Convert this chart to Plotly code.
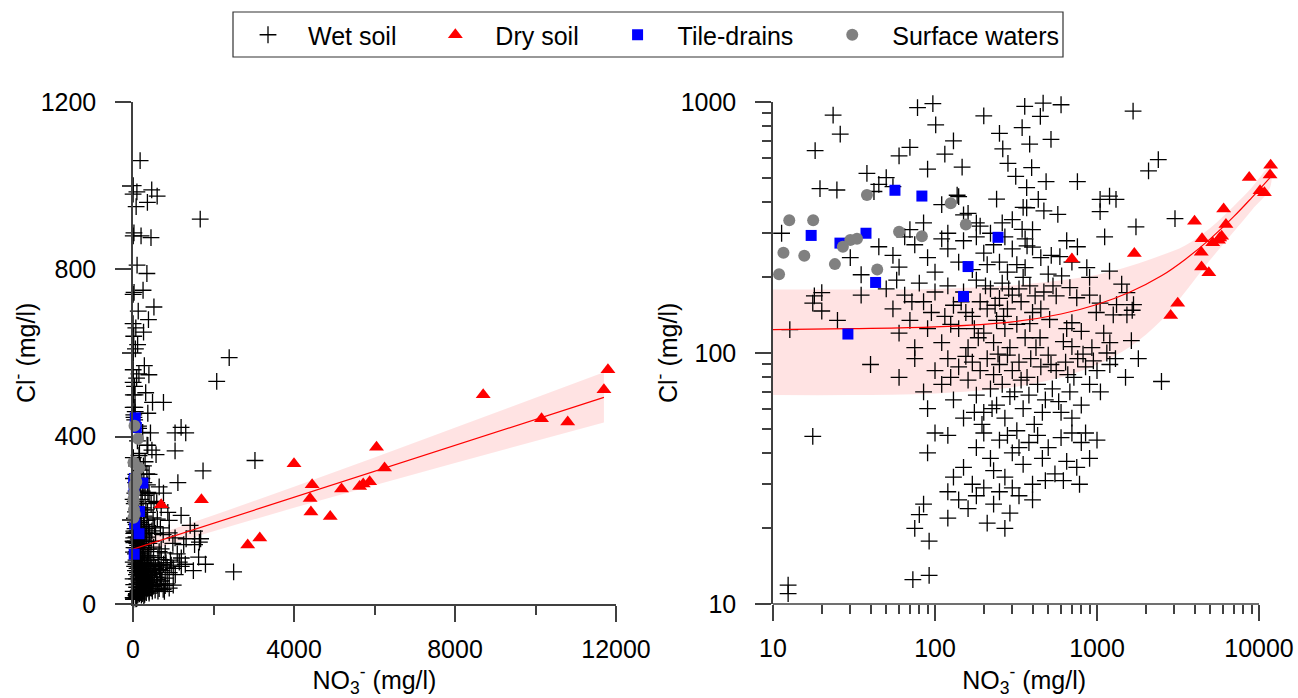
import plotly.graph_objects as go

# ---------------- data (mg/l) ----------------
wet_x = [
    # scattered high values
    11.3, 18.2, 19.5, 23.5, 26, 24.8, 38, 45, 50, 55, 42, 60, 78, 97, 101, 115, 147, 177,
    250, 262, 282, 315, 358, 345, 384, 520, 465, 600, 1670, 2080, 2390, 447, 395, 485, 757, 200,
    130, 90, 70,
    # 300-450
    137, 150, 368, 434, 368, 470, 573, 1045, 1195, 1310, 1045, 3030, 345, 85, 120, 160, 190, 240,
    300, 350, 400, 220, 260, 140, 70, 110, 180,
    # 200-300
    360, 370, 400, 757, 522, 590, 1115, 1740, 360, 865, 500, 605, 900, 1195, 30, 45, 60, 75,
    90, 100, 120, 140, 150, 170, 200, 230, 250, 280, 300, 320, 35, 55, 65, 110, 180, 210,
    270, 450, 650, 700,
    # 100-200 (right part)
    1420, 1530, 385, 535, 680, 415, 560, 750, 1045, 1320, 1680, 990, 1260, 1530, 1650, 510, 700, 385,
    800, 445, 620, 1630, 700, 930,
    # 100-200 (left part)
    17.6, 18, 20, 20, 12.7, 50, 55, 60, 65, 70, 75, 80, 85, 90, 95, 100, 58, 72, 110, 115,
    120, 130, 140, 150, 160, 170, 180, 190, 200, 210, 220, 230, 240, 250, 260, 270, 280, 290, 300, 125,
    145, 185, 205, 235, 265, 285, 175, 155, 320, 340, 360, 400, 420, 470, 350, 450, 330, 650, 900, 1100,
    1200, 25, 35,
    # 50-100
    40, 60, 75, 85, 90, 100,
    110, 120, 130, 140, 150, 160, 170, 180, 190, 200, 210, 220, 230, 240, 250, 260, 270, 280, 290, 300,
    155, 195, 225, 245, 125, 175, 310, 330, 350, 370, 390, 410, 430, 450, 480, 500, 530, 560,
    600, 640, 680, 720, 760, 800, 850, 900, 950, 1000, 340, 460, 580, 700, 820, 380, 520, 660,
    1050, 1150, 1200, 2500, 1500, 1300, 1800,
    # 30-50
    120, 150, 180, 200, 220, 250, 270, 300, 320, 350, 380, 400, 430, 460, 500, 550, 600, 650,
    700, 750, 800, 900, 1000, 17.6, 90, 100, 130, 170, 230, 280, 330, 480, 620, 780, 850,
    # below 30
    75, 80, 85, 92, 120, 140, 160, 180, 200, 230, 250, 290, 330, 300, 400, 120, 210, 270,
    73, 92, 12.4, 12.4,
    # NO3 below 10 mg/l (only visible on the linear panel)
    5, 3, 6, 4, 2, 7, 5, 3, 8, 4, 2, 6, 3, 5, 4, 1, 2, 8,
]
wet_y = [
    300, 640, 452, 887, 745, 446, 520, 470, 500, 460, 440, 610, 950, 985, 810, 620, 550, 1060,
    750, 650, 570, 505, 960, 790, 680, 710, 990, 975, 920, 532, 589, 876, 548, 482, 482, 880,
    700, 540, 660,
    425, 355, 456, 409, 379, 368, 357, 409, 422, 409, 366, 343, 311, 330, 300, 360, 320, 410,
    340, 380, 310, 300, 330, 420, 310, 390, 330,
    285, 267, 264, 265, 245, 242, 290, 318, 219, 219, 206, 203, 200, 212, 240, 265, 220, 270,
    240, 210, 260, 230, 280, 215, 250, 270, 230, 210, 260, 225, 205, 245, 290, 285, 290, 225,
    290, 240, 280, 230,
    188, 174, 185, 185, 182, 169, 169, 166, 158, 156, 156, 145, 142, 142, 148, 136, 132, 131,
    122, 115, 111, 112, 106, 105,
    158, 169, 174, 147, 124, 180, 150, 120, 170, 135, 105, 190, 160, 125, 145, 175, 195, 160, 110, 140,
    185, 155, 125, 175, 105, 140, 195, 160, 120, 150, 180, 110, 135, 165, 190, 125, 150, 105, 170, 130,
    160, 115, 185, 155, 140, 180, 125, 145, 130, 160, 115, 145, 105, 175, 200, 150, 180, 125, 170, 120,
    110, 135, 170,
    90, 80, 95, 70, 60, 85,
    75, 95, 65, 88, 55, 78, 92, 68, 85, 58, 95, 72, 82, 62, 90, 75, 55, 98, 67, 85,
    97, 52, 60, 99, 80, 58, 70, 92, 60, 80, 95, 52, 75, 88, 65, 98, 72, 85,
    58, 92, 70, 80, 95, 62, 88, 75, 93, 85, 78, 58, 64, 55, 99, 68, 90, 82,
    70, 100, 90, 77, 80, 95, 95,
    47, 35, 42, 48, 38, 45, 32, 40, 49, 36, 44, 30, 47, 38, 42, 33, 46, 37,
    48, 35, 44, 38, 45, 46.5, 40, 48, 32, 30, 34, 47, 42, 31, 31, 30, 48,
    20, 22.7, 25, 17.8, 28, 26, 24, 27, 29, 25, 28, 23, 27, 29, 26, 22, 21, 20,
    12.5, 13, 11.9, 11,
    1000, 980, 880, 740, 670, 600, 560, 530, 500, 470, 150, 100, 60, 30, 15, 200, 250, 350,
]

dry_x = [11800, 11700, 8700, 10150, 10800, 6050, 4000, 6250, 4450, 5880, 5180, 5720, 5630,
         4400, 1700, 700, 4420, 4900, 3150, 2850]
dry_y = [560, 512, 500, 443, 435, 375, 335, 325, 285, 292, 275, 287, 281,
         252, 249, 237, 220, 209, 158, 141]

tile_x = [17.2, 25.9, 37.5, 56.6, 83, 245, 160, 150, 43, 29]
tile_y = [294, 274, 300, 445, 422, 289, 221, 168, 191, 119]

surf_x = [10.9, 11.6, 12.6, 17.7, 15.6, 24.1, 27, 30, 33, 38, 44, 60, 83, 125, 155]
surf_y = [206, 251, 338, 338, 244, 226, 265, 282, 285, 426, 215, 304, 292, 395, 325]

# regression line and confidence band
fitL_x = [0, 1000, 2000, 4000, 6000, 8000, 10000, 11700]
fitL_y = [131, 162, 193, 255, 317, 379, 441, 494]
fitL_lo = [114, 145, 174, 230, 284, 337, 390, 434]
fitL_hi = [148, 179, 212, 280, 350, 421, 492, 554]

# regression curve and band
fitR_x = [10, 30, 100, 300, 600, 1000, 1600, 2500, 3500, 5000, 7000, 9000, 11700]
fitR_y = [124, 125, 127, 133, 143, 156, 175, 203, 236, 285, 350, 415, 500]
fitR_hi = [179, 179, 180, 186, 195, 205, 222, 245, 268, 315, 385, 455, 550]
fitR_lo = [68, 68, 69, 73, 80, 90, 106, 135, 175, 235, 305, 370, 455]

lin_x_ticks = [0, 4000, 8000, 12000]
lin_x_minor = [2000, 6000, 10000]
lin_y_ticks = [0, 400, 800, 1200]
lin_y_minor = [200, 600, 1000]
log_x_ticks = [10, 100, 1000, 10000]
log_y_ticks = [10, 100, 1000]

series_names = ["Wet soil", "Dry soil", "Tile-drains", "Surface waters"]

# ---------------- figure ----------------
W, H = 1298, 698
FONT = "Liberation Sans, Arial, sans-serif"
FS = 25
AX = "#404040"
NB = "\u00a0"

# right panel: axis drawn from 10 to 10000, but the plotting range runs a bit past 10000
R_LOG_MIN, R_LOG_AXIS_END, R_LOG_MAX = 1.0, 4.0, 4.1
R_PX0, R_PX_AXIS_END = 773.0, 1259.0
R_PX1 = R_PX0 + (R_PX_AXIS_END - R_PX0) * (R_LOG_MAX - R_LOG_MIN) / (R_LOG_AXIS_END - R_LOG_MIN)
xdom2 = [R_PX0 / W, R_PX1 / W]

fig = go.Figure()


def log_filter(xs, ys):
    px, py = [], []
    for a, b in zip(xs, ys):
        if a >= 10 and b >= 10:
            px.append(a)
            py.append(b)
    return px, py


wet_style = dict(symbol="cross-thin", size=12, line=dict(color="black", width=1.3), color="black")
dry_style = dict(symbol="triangle-up", size=13, color="#ff0000", line=dict(width=0))
tile_style = dict(symbol="square", size=11, color="#0000ff", line=dict(width=0))
surf_style = dict(symbol="circle", size=12, color="#808080", line=dict(width=0))

legend_labels = [series_names[0] + NB * 2, series_names[1] + NB * 2,
                 series_names[2] + NB * 2, series_names[3]]

for panel, (xa, ya) in enumerate([("x", "y"), ("x2", "y2")]):
    first = panel == 0
    if first:
        fx, fy, flo, fhi = fitL_x, fitL_y, fitL_lo, fitL_hi
        wx, wy = wet_x, wet_y
        dx, dy = dry_x, dry_y
        tx, ty = tile_x, tile_y
        sx, sy = surf_x, surf_y
        shape = "linear"
    else:
        fx, fy, flo, fhi = fitR_x, fitR_y, fitR_lo, fitR_hi
        wx, wy = log_filter(wet_x, wet_y)
        dx, dy = log_filter(dry_x, dry_y)
        tx, ty = log_filter(tile_x, tile_y)
        sx, sy = log_filter(surf_x, surf_y)
        shape = "spline"
    fig.add_trace(go.Scatter(
        x=fx + fx[::-1], y=fhi + flo[::-1], mode="lines", fill="toself",
        fillcolor="rgba(255,0,0,0.11)", line=dict(width=0, shape=shape),
        hoverinfo="skip", showlegend=False, xaxis=xa, yaxis=ya))
    fig.add_trace(go.Scatter(
        x=wx, y=wy, mode="markers", name=legend_labels[0], marker=wet_style,
        cliponaxis=False, showlegend=first, xaxis=xa, yaxis=ya))
    fig.add_trace(go.Scatter(
        x=fx, y=fy, mode="lines", line=dict(color="#ff0000", width=1.2, shape=shape),
        showlegend=False, xaxis=xa, yaxis=ya))
    fig.add_trace(go.Scatter(
        x=dx, y=dy, mode="markers", name=legend_labels[1], marker=dry_style,
        cliponaxis=False, showlegend=first, xaxis=xa, yaxis=ya))
    fig.add_trace(go.Scatter(
        x=tx, y=ty, mode="markers", name=legend_labels[2], marker=tile_style,
        cliponaxis=False, showlegend=first, xaxis=xa, yaxis=ya))
    fig.add_trace(go.Scatter(
        x=sx, y=sy, mode="markers", name=legend_labels[3], marker=surf_style,
        cliponaxis=False, showlegend=first, xaxis=xa, yaxis=ya))

common = dict(
    linecolor=AX, linewidth=1.5, ticks="outside", ticklen=16,
    tickwidth=1.5, tickcolor=AX, showgrid=False, zeroline=False,
    tickfont=dict(family=FONT, size=FS, color="black"),
    title_font=dict(family=FONT, size=FS, color="black"),
    automargin=False,
)
minor_common = dict(ticks="outside", ticklen=9, tickwidth=1.5, tickcolor=AX, showgrid=False)

y_dom = [1 - 604 / H, 1 - 102 / H]
xtitle = "NO<sub>3</sub><sup>-</sup> (mg/l)"
ytitle = "Cl<sup>-</sup> (mg/l)"

fig.update_layout(
    width=W, height=H,
    margin=dict(l=0, r=0, t=0, b=0),
    paper_bgcolor="white", plot_bgcolor="white",
    font=dict(family=FONT, size=FS, color="black"),
    xaxis=dict(domain=[133 / W, 616 / W], range=[0, 12000], anchor="y", showline=True,
               tickmode="array", tickvals=lin_x_ticks,
               ticktext=[str(v) for v in lin_x_ticks],
               minor=dict(tickmode="array", tickvals=lin_x_minor, **minor_common),
               ticklabelstandoff=6,
               title=dict(text=xtitle, standoff=0), **common),
    yaxis=dict(domain=y_dom, range=[0, 1200], anchor="x", showline=True,
               tickmode="array", tickvals=lin_y_ticks,
               ticktext=[str(v) for v in lin_y_ticks],
               minor=dict(tickmode="array", tickvals=lin_y_minor, **minor_common),
               ticklabelstandoff=14, **common),
    xaxis2=dict(domain=xdom2, type="log", range=[R_LOG_MIN, R_LOG_MAX], anchor="y2",
                showline=False,
                tickmode="array", tickvals=log_x_ticks,
                ticktext=[str(v) for v in log_x_ticks],
                minor=dict(tickmode="array",
                           tickvals=[m * d for d in (10, 100, 1000) for m in range(2, 10)],
                           **minor_common),
                ticklabelstandoff=6,
                title=dict(text=xtitle, standoff=0), **common),
    yaxis2=dict(domain=y_dom, type="log", range=[1, 3], anchor="x2", showline=True,
                tickmode="array", tickvals=log_y_ticks,
                ticktext=[str(v) for v in log_y_ticks],
                minor=dict(tickmode="array",
                           tickvals=[m * d for d in (10, 100) for m in range(2, 10)],
                           **minor_common),
                ticklabelstandoff=14, **common),
    legend=dict(orientation="h", x=228 / W, xanchor="left", y=1 - 12 / H, yanchor="top",
                borderwidth=0, bgcolor="rgba(0,0,0,0)",
                font=dict(family=FONT, size=FS, color="black"),
                itemwidth=70, tracegroupgap=0),
    showlegend=True,
)

# legend frame
fig.add_shape(type="rect", xref="paper", yref="paper",
              x0=233 / W, x1=1063 / W, y0=1 - 57 / H, y1=1 - 12 / H,
              line=dict(color="#333333", width=1.2), fillcolor="rgba(0,0,0,0)", layer="above")

# x-axis line of the log panel, stopping at 10000
frac_end = xdom2[0] + (xdom2[1] - xdom2[0]) * (R_LOG_AXIS_END - R_LOG_MIN) / (R_LOG_MAX - R_LOG_MIN)
fig.add_shape(type="line", xref="paper", yref="paper",
              x0=xdom2[0], x1=frac_end, y0=y_dom[0], y1=y_dom[0],
              line=dict(color=AX, width=1.5), layer="above")

# y-axis titles, just left of the tick labels
y_mid = (y_dom[0] + y_dom[1]) / 2
for xpx in (24, 666):
    fig.add_annotation(text=ytitle, xref="paper", yref="paper", x=xpx / W, y=y_mid,
                       textangle=-90, showarrow=False, xanchor="center", yanchor="middle",
                       font=dict(family=FONT, size=FS, color="black"))

fig.write_html("out.html", config={"displayModeBar": False},
               post_script="document.body.style.margin='0';document.body.style.overflow='hidden';")
